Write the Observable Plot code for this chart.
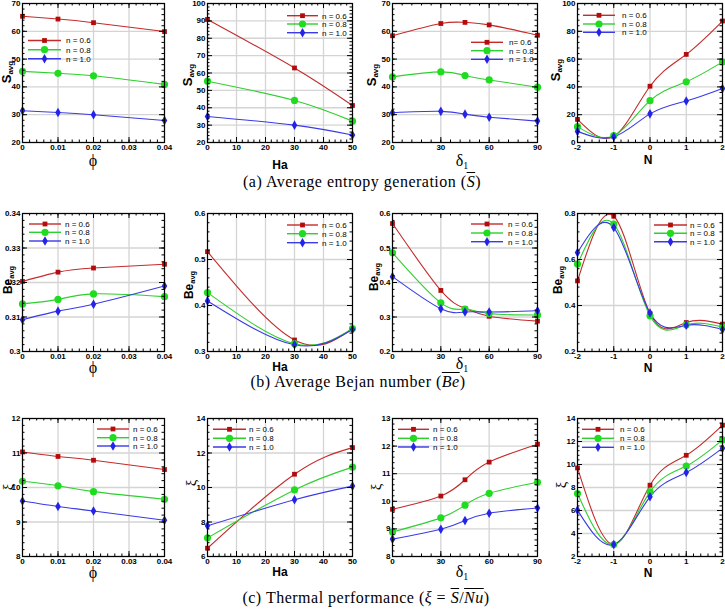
<!DOCTYPE html>
<html><head><meta charset="utf-8">
<script src="https://cdn.jsdelivr.net/npm/d3@7"></script>
<script src="https://cdn.jsdelivr.net/npm/@observablehq/plot@0.6"></script>
<style>
body{margin:0;background:#fff;}
#page{position:relative;width:725px;height:609px;overflow:hidden;background:#fff;}
.panel{position:absolute;}
.lbl{position:absolute;transform:translate(-50%,-50%);white-space:nowrap;line-height:1;color:#000;}
.ylbl{position:absolute;transform:translate(-50%,-50%) rotate(-90deg);white-space:nowrap;line-height:1;color:#000;}
.sans{font-family:'Liberation Sans',Arial,sans-serif;font-weight:bold;}
.serif{font-family:'Liberation Serif','Times New Roman',serif;}
.cap{position:absolute;transform:translate(-50%,-50%);white-space:nowrap;font-family:'Liberation Serif','Times New Roman',serif;letter-spacing:0.5px;line-height:1;}
.ov{text-decoration:overline;}
sub{font-size:0.62em;vertical-align:-0.25em;}
#overlay{position:absolute;left:0;top:0;pointer-events:none;}
</style></head><body><div id="page"></div><script>
// ---------- data ----------
const phi = [0, 0.01, 0.02, 0.04];
const Ha = [0, 30, 50];
const delta1 = [0, 30, 45, 60, 90];
const Nvals = [-2, -1, 0, 1, 2];
const seriesLabels = ["n = 0.6", "n = 0.8", "n = 1.0"];
const seriesLabelsAlt = ["n= 0.6", "n = 0.8", "n = 1.0"];

// (a) average entropy generation
const S_phi_06 = [65.4, 64.4, 63.1, 59.9];
const S_phi_08 = [45.6, 44.9, 44.0, 40.9];
const S_phi_10 = [31.4, 30.8, 30.0, 27.9];
const S_Ha_06 = [90.8, 62.9, 41.3];
const S_Ha_08 = [55.3, 44.2, 32.3];
const S_Ha_10 = [35.0, 30.0, 24.3];
const S_d_06 = [58.4, 62.8, 63.2, 62.3, 58.6];
const S_d_08 = [43.6, 45.4, 44.1, 42.5, 39.9];
const S_d_10 = [30.7, 31.2, 30.2, 29.1, 27.7];
const S_N_06 = [16.6, 4.4, 40.5, 63.4, 87.4];
const S_N_08 = [11.4, 4.9, 30.1, 43.7, 58.0];
const S_N_10 = [8.0, 4.1, 20.6, 29.9, 38.9];
// (b) average Bejan number
const Be_phi_06 = [0.3203, 0.3230, 0.3242, 0.3253];
const Be_phi_08 = [0.3138, 0.3151, 0.3167, 0.3159];
const Be_phi_10 = [0.3092, 0.3117, 0.3137, 0.3190];
const Be_Ha_06 = [0.517, 0.325, 0.350];
const Be_Ha_08 = [0.428, 0.317, 0.350];
const Be_Ha_10 = [0.410, 0.3145, 0.348];
const Be_d_06 = [0.571, 0.377, 0.325, 0.302, 0.288];
const Be_d_08 = [0.486, 0.341, 0.323, 0.310, 0.306];
const Be_d_10 = [0.417, 0.324, 0.3145, 0.3145, 0.318];
const Be_N_06 = [0.507, 0.788, 0.365, 0.326, 0.319];
const Be_N_08 = [0.580, 0.754, 0.355, 0.316, 0.307];
const Be_N_10 = [0.630, 0.739, 0.367, 0.314, 0.296];
// (c) thermal performance
const xi_phi_06 = [11.03, 10.90, 10.79, 10.52];
const xi_phi_08 = [10.18, 10.05, 9.88, 9.66];
const xi_phi_10 = [9.61, 9.45, 9.32, 9.05];
const xi_Ha_06 = [6.48, 10.77, 12.31];
const xi_Ha_08 = [7.08, 9.86, 11.18];
const xi_Ha_10 = [7.78, 9.29, 10.08];
const xi_d_06 = [9.71, 10.19, 10.78, 11.42, 12.07];
const xi_d_08 = [8.89, 9.40, 9.86, 10.29, 10.69];
const xi_d_10 = [8.63, 8.99, 9.30, 9.57, 9.76];
const xi_N_06 = [9.7, 3.05, 8.2, 10.8, 13.42];
const xi_N_08 = [7.48, 3.04, 7.62, 9.86, 12.14];
const xi_N_10 = [6.03, 3.04, 7.19, 9.30, 11.42];

// tick labels
const ticksPhi = [0, 0.01, 0.02, 0.03, 0.04];
const ticksHa = [0, 10, 20, 30, 40, 50];
const ticksDelta = [0, 30, 60, 90];
const ticksN = [-2, -1, 0, 1, 2];
const ticksS1 = [20, 30, 40, 50, 60, 70];
const ticksS2 = [20, 30, 40, 50, 60, 70, 80, 90, 100];
const ticksS4 = [0, 20, 40, 60, 80, 100];
const ticksBe1 = [0.3, 0.31, 0.32, 0.33, 0.34];
const ticksBe2 = [0.3, 0.4, 0.5, 0.6];
const ticksBe3 = [0.2, 0.3, 0.4, 0.5, 0.6];
const ticksBe4 = [0.2, 0.4, 0.6, 0.8];
const ticksXi1 = [8, 9, 10, 11, 12];
const ticksXi2 = [6, 8, 10, 12, 14];
const ticksXi3 = [8, 9, 10, 11, 12, 13];
const ticksXi4 = [2, 4, 6, 8, 10, 12, 14];

// ---------- styling ----------
const lineColors = ["#c42b2b", "#2fcf2f", "#3a3ae6"];
const fillColors = ["#b40c0c", "#1fdc1f", "#2424e8"];
const symbols = ["square", "circle", "diamond"];
const radii = [2.7, 3.6, 2.9];
const cols = [[22, 164], [207, 352], [392, 537], [577, 722]];
const rows = [[3, 142], [213, 351], [418, 556]];

function minor(ticks, sub) {
  const lo = ticks[0], hi = ticks[ticks.length - 1];
  const step = (ticks[1] - ticks[0]) / sub;
  const n = Math.round((hi - lo) / step);
  return d3.range(n + 1).map(i => +(lo + i * step).toFixed(8));
}

const panels = [
  {row: 0, col: 0, x: phi, xt: ticksPhi, yt: ticksS1, s: [S_phi_06, S_phi_08, S_phi_10]},
  {row: 0, col: 1, x: Ha, xt: ticksHa, yt: ticksS2, s: [S_Ha_06, S_Ha_08, S_Ha_10]},
  {row: 0, col: 2, x: delta1, xt: ticksDelta, yt: ticksS1, s: [S_d_06, S_d_08, S_d_10]},
  {row: 0, col: 3, x: Nvals, xt: ticksN, yt: ticksS4, s: [S_N_06, S_N_08, S_N_10]},
  {row: 1, col: 0, x: phi, xt: ticksPhi, yt: ticksBe1, s: [Be_phi_06, Be_phi_08, Be_phi_10]},
  {row: 1, col: 1, x: Ha, xt: ticksHa, yt: ticksBe2, s: [Be_Ha_06, Be_Ha_08, Be_Ha_10]},
  {row: 1, col: 2, x: delta1, xt: ticksDelta, yt: ticksBe3, s: [Be_d_06, Be_d_08, Be_d_10]},
  {row: 1, col: 3, x: Nvals, xt: ticksN, yt: ticksBe4, s: [Be_N_06, Be_N_08, Be_N_10]},
  {row: 2, col: 0, x: phi, xt: ticksPhi, yt: ticksXi1, s: [xi_phi_06, xi_phi_08, xi_phi_10]},
  {row: 2, col: 1, x: Ha, xt: ticksHa, yt: ticksXi2, s: [xi_Ha_06, xi_Ha_08, xi_Ha_10]},
  {row: 2, col: 2, x: delta1, xt: ticksDelta, yt: ticksXi3, s: [xi_d_06, xi_d_08, xi_d_10]},
  {row: 2, col: 3, x: Nvals, xt: ticksN, yt: ticksXi4, s: [xi_N_06, xi_N_08, xi_N_10]}
];

const page = document.getElementById("page");
const mL = 30, mR = 3, mT = 8, mB = 16;

panels.forEach(p => {
  const [fl, fr] = cols[p.col], [ft, fb] = rows[p.row];
  const W = fr - fl, H = fb - ft;
  const xMinor = minor(p.xt, 5);
  const yMinor = minor(p.yt, 5);
  const marks = [
    Plot.gridX(p.xt, {stroke: "#d4d4d4", strokeOpacity: 1, strokeWidth: 1.3}),
    Plot.gridY(p.yt, {stroke: "#d4d4d4", strokeOpacity: 1, strokeWidth: 1.3})
  ];
  p.s.forEach((vals, i) => {
    const data = p.x.map((x, j) => ({x, y: vals[j]}));
    marks.push(Plot.line(data, {x: "x", y: "y", stroke: lineColors[i], strokeWidth: 1.1, curve: "natural"}));
  });
  p.s.forEach((vals, i) => {
    const data = p.x.map((x, j) => ({x, y: vals[j]}));
    marks.push(Plot.dot(data, {x: "x", y: "y", symbol: symbols[i], fill: fillColors[i], stroke: "none", r: radii[i]}));
  });
  marks.push(
    Plot.tickX(xMinor, {x: d => d, insetTop: H - 2.5, stroke: "#000"}),
    Plot.tickX(xMinor, {x: d => d, insetBottom: H - 2.5, stroke: "#000"}),
    Plot.tickX(p.xt, {x: d => d, insetTop: H - 5, stroke: "#000"}),
    Plot.tickX(p.xt, {x: d => d, insetBottom: H - 5, stroke: "#000"}),
    Plot.tickY(yMinor, {y: d => d, insetRight: W - 2.5, stroke: "#000"}),
    Plot.tickY(yMinor, {y: d => d, insetLeft: W - 2.5, stroke: "#000"}),
    Plot.tickY(p.yt, {y: d => d, insetRight: W - 5, stroke: "#000"}),
    Plot.tickY(p.yt, {y: d => d, insetLeft: W - 5, stroke: "#000"}),
    Plot.frame({stroke: "#000", strokeWidth: 1.2}),
    Plot.axisX(p.xt, {tickSize: 0, tickPadding: 2, tickFormat: d => String(d), label: null}),
    Plot.axisY(p.yt, {tickSize: 0, tickPadding: 2, tickFormat: d => String(d), label: null})
  );
  const chart = Plot.plot({
    width: W + mL + mR, height: H + mT + mB,
    marginLeft: mL, marginRight: mR, marginTop: mT, marginBottom: mB,
    x: {domain: [p.xt[0], p.xt[p.xt.length - 1]]},
    y: {domain: [p.yt[0], p.yt[p.yt.length - 1]]},
    style: {fontFamily: "'Liberation Sans', Arial, sans-serif", fontSize: "8px", fontWeight: "bold", overflow: "visible", background: "none", color: "#000"},
    marks
  });
  chart.classList.add("panel");
  chart.style.left = (fl - mL) + "px";
  chart.style.top = (ft - mT) + "px";
  page.appendChild(chart);
});

// ---------- legends ----------
const legends = [
  {x1: 28, x2: 61, xt: 66, ys: [40.5, 49.7, 58.7], labels: seriesLabels},
  {x1: 287, x2: 318, xt: 322, ys: [15.7, 24, 32.7], labels: seriesLabels},
  {x1: 471, x2: 503, xt: 509, ys: [42.3, 50.7, 59.3], labels: seriesLabelsAlt},
  {x1: 583, x2: 615, xt: 622, ys: [15.3, 24, 32.3], labels: seriesLabels},
  {x1: 29, x2: 61, xt: 65, ys: [224, 232.3, 241], labels: seriesLabels},
  {x1: 287, x2: 318, xt: 322, ys: [225, 233.7, 242.7], labels: seriesLabels},
  {x1: 471, x2: 503, xt: 508, ys: [224, 233, 241.7], labels: seriesLabels},
  {x1: 654, x2: 687, xt: 690, ys: [225, 233.3, 241.7], labels: seriesLabels},
  {x1: 97, x2: 129, xt: 133, ys: [429, 437.7, 446], labels: seriesLabels},
  {x1: 213, x2: 246, xt: 249, ys: [429.3, 438.3, 447], labels: seriesLabels},
  {x1: 398, x2: 429, xt: 433, ys: [429.3, 438.3, 447], labels: seriesLabels},
  {x1: 582, x2: 614, xt: 620, ys: [429.3, 438.3, 447.3], labels: seriesLabels}
];
const overlay = d3.select(page).append("svg").attr("id", "overlay").attr("width", 725).attr("height", 609);
legends.forEach(L => {
  L.ys.forEach((y, i) => {
    overlay.append("line").attr("x1", L.x1).attr("x2", L.x2).attr("y1", y).attr("y2", y)
      .attr("stroke", lineColors[i]).attr("stroke-width", 1.4);
    const sym = {square: d3.symbolSquare, circle: d3.symbolCircle, diamond: d3.symbolDiamond}[symbols[i]];
    overlay.append("path").attr("d", d3.symbol(sym, Math.PI * radii[i] * radii[i])())
      .attr("transform", `translate(${(L.x1 + L.x2) / 2},${y})`).attr("fill", fillColors[i]);
    overlay.append("text").attr("x", L.xt).attr("y", y).attr("dy", "0.35em")
      .attr("font-family", "'Liberation Sans', Arial, sans-serif").attr("font-size", 8)
      .attr("fill", "#000").text(L.labels[i]);
  });
});

// ---------- axis labels & captions ----------
function addLabel(html, cls, x, y, size) {
  const d = document.createElement("div");
  d.className = cls;
  d.style.left = x + "px"; d.style.top = y + "px"; d.style.fontSize = size + "px";
  d.innerHTML = html;
  page.appendChild(d);
}
const xLabelPos = [
  [93, 161], [280, 165], [462, 162], [648, 160],
  [93, 368], [280, 367], [462, 365], [648, 368],
  [93, 573], [280, 572], [462, 573], [648, 573]
];
const xLabels = [
  ["ϕ", "lbl serif", 16], ["Ha", "lbl sans", 12], ["δ<sub>1</sub>", "lbl serif", 16], ["N", "lbl sans", 12]
];
xLabelPos.forEach((pos, i) => {
  const [h, c, s] = xLabels[i % 4];
  addLabel(h, c, pos[0], pos[1], s);
});
const yLabelPos = [
  [8, 72], [189, 75], [373, 75], [557, 70],
  [9, 280], [190, 285], [375, 277], [559, 280],
  [8, 487], [191, 483], [376, 487], [561, 485]
];
const yLabels = [
  ["S<sub>avg</sub>", "ylbl sans", 13], ["Be<sub>avg</sub>", "ylbl sans", 12], ["ξ", "ylbl serif", 15]
];
yLabelPos.forEach((pos, i) => {
  const [h, c, s] = yLabels[Math.floor(i / 4)];
  addLabel(h, c, pos[0], pos[1], s);
});
addLabel('(a) Average entropy generation (<i class="ov">S</i>)', "cap", 362, 182, 16);
addLabel('(b) Average Bejan number (<i class="ov">Be</i>)', "cap", 358, 382, 16);
addLabel('(c) Thermal performance (<i>ξ</i> = <i class="ov">S</i>/<i class="ov">Nu</i>)', "cap", 366, 598, 16);
</script></body></html>
